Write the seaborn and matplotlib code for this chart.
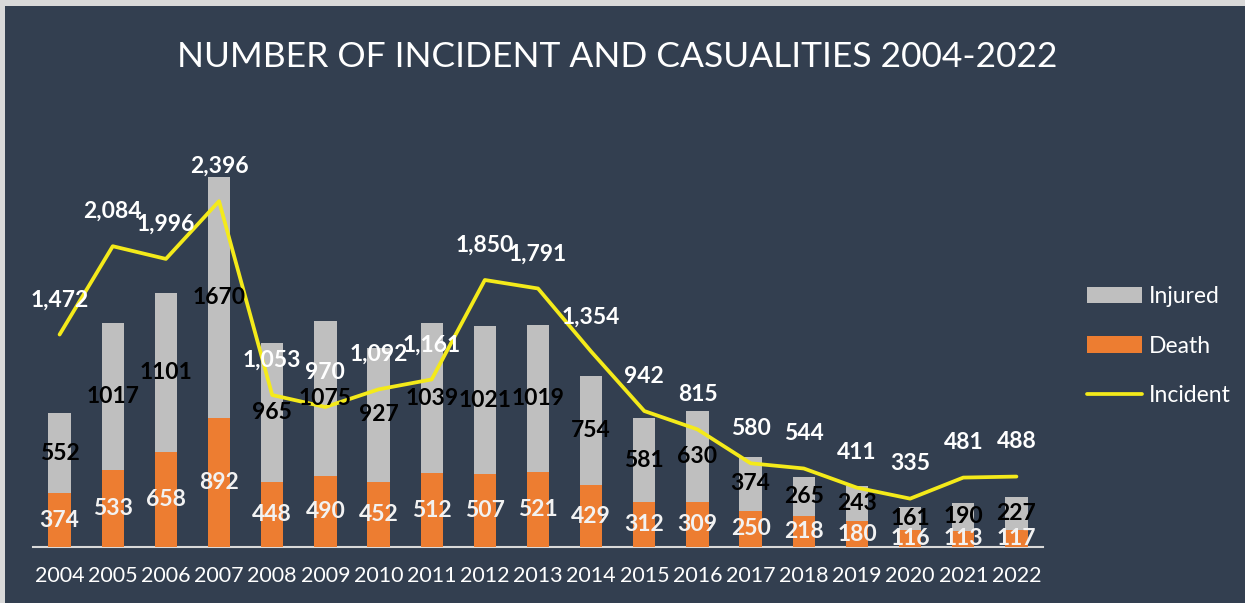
# Incident and casualties chart, 2004-2022

import numpy as np
import pandas as pd
import matplotlib
matplotlib.use("Agg")
import matplotlib.pyplot as plt
import seaborn as sns
from matplotlib.patches import Rectangle, Patch
from matplotlib.lines import Line2D

# ==========================================================
# DATA
# ==========================================================

years = ["2004", "2005", "2006", "2007", "2008", "2009", "2010", "2011", "2012", "2013",
         "2014", "2015", "2016", "2017", "2018", "2019", "2020", "2021", "2022"]

death = [374, 533, 658, 892, 448, 490, 452, 512, 507, 521,
         429, 312, 309, 250, 218, 180, 116, 113, 117]

injured = [552, 1017, 1101, 1670, 965, 1075, 927, 1039, 1021, 1019,
           754, 581, 630, 374, 265, 243, 161, 190, 227]

incident = [1472, 2084, 1996, 2396, 1053, 970, 1092, 1161, 1850, 1791,
            1354, 942, 815, 580, 544, 411, 335, 481, 488]

df = pd.DataFrame({
    "Year": years,
    "Death": death,
    "Injured": injured,
    "Incident": incident,
})
df["Total"] = df["Death"] + df["Injured"]
df["Pos"] = np.arange(len(df))

# ==========================================================
# STYLE
# ==========================================================

BG = "#333f50"
GRAY = "#bfbfbf"
ORANGE = "#ed7d31"
YELLOW = "#f4ea1a"

sns.set_style("dark")
plt.rcParams["font.family"] = ["Lato", "DejaVu Sans"]

fig = plt.figure(figsize=(12.45, 6.03), dpi=100)
fig.patch.set_facecolor("#d9d9d9")
fig.patches.append(Rectangle((5 / 1245, 0), 1 - 5 / 1245, 1 - 6 / 603,
                             transform=fig.transFigure, facecolor=BG,
                             edgecolor="none", zorder=-5))

ax = fig.add_axes([33 / 1245, 1 - 547 / 603, 1010 / 1245, 433 / 603])
ax.set_facecolor("none")

# ==========================================================
# BARS + LINE
# ==========================================================

sns.barplot(data=df, x="Year", y="Total", color=GRAY, width=0.42,
            saturation=1, edgecolor="none", linewidth=0, ax=ax, zorder=2)
sns.barplot(data=df, x="Year", y="Death", color=ORANGE, width=0.42,
            saturation=1, edgecolor="none", linewidth=0, ax=ax, zorder=3)
sns.lineplot(data=df, x="Pos", y="Incident", color=YELLOW, linewidth=2.7,
             ax=ax, zorder=4)

# ==========================================================
# LABELS
# ==========================================================

LABEL_SIZE = 16.5

for i, row in df.iterrows():
    ax.text(i, row["Death"] / 2, str(row["Death"]), ha="center", va="center",
            color="#f2f2f2", fontsize=LABEL_SIZE, fontweight="bold", zorder=5)
    ax.text(i, row["Death"] + row["Injured"] / 2, str(row["Injured"]),
            ha="center", va="center", color="black", fontsize=LABEL_SIZE,
            fontweight="bold", zorder=5)
    ax.annotate(f"{row['Incident']:,}", (i, row["Incident"]),
                xytext=(0, 25), textcoords="offset points",
                ha="center", va="center", color="white", fontsize=LABEL_SIZE,
                fontweight="bold", zorder=6)

# ==========================================================
# AXES
# ==========================================================

ax.set_xlim(-0.5, len(df) - 0.5)
ax.set_ylim(0, 3000)
ax.set_xlabel("")
ax.set_ylabel("")
ax.set_yticks([])
ax.tick_params(axis="x", colors="white", labelsize=15.5, length=0, pad=14)
ax.grid(False)
for side in ["top", "right", "left"]:
    ax.spines[side].set_visible(False)
ax.spines["bottom"].set_color("#d9d9d9")
ax.spines["bottom"].set_linewidth(1.5)

fig.text(0.496, 1 - 57 / 603, "NUMBER OF INCIDENT AND CASUALITIES 2004-2022",
         ha="center", va="center", color="white", fontsize=25.5)

handles = [
    Patch(facecolor=GRAY, edgecolor="none", label="Injured"),
    Patch(facecolor=ORANGE, edgecolor="none", label="Death"),
    Line2D([0], [0], color=YELLOW, linewidth=2.7, label="Incident"),
]
leg = fig.legend(handles=handles, loc="center left",
                 bbox_to_anchor=(1087 / 1245, 1 - 346 / 603),
                 frameon=False, fontsize=16.5, labelcolor="white",
                 handlelength=2.4, handleheight=0.7, labelspacing=1.25,
                 handletextpad=0.3, borderpad=0, borderaxespad=0)

fig.savefig("out.png", dpi=100, facecolor=fig.get_facecolor())
